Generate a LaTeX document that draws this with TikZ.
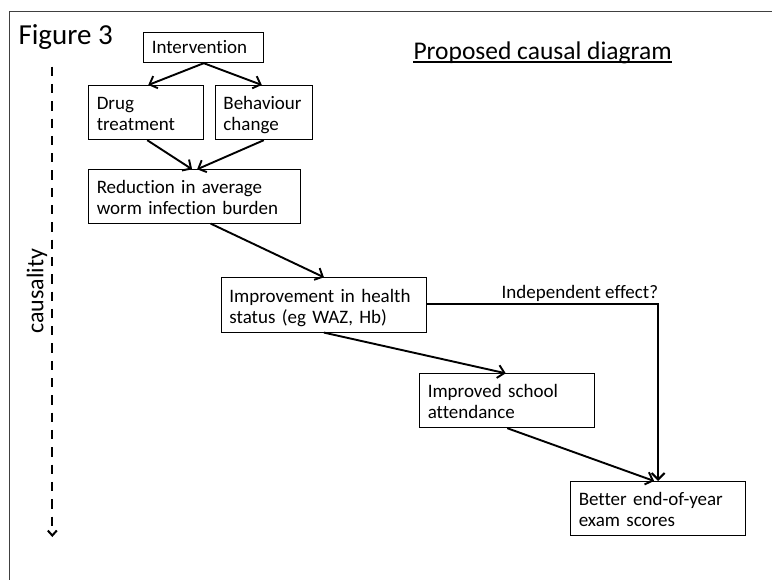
\documentclass[tikz,border=0pt]{standalone}
\usepackage{fontspec}
\setmainfont{Carlito}[Ligatures={NoCommon}]
\usetikzlibrary{arrows.meta,calc}
\begin{document}
\begin{tikzpicture}[x=1pt,y=-1pt,
  box/.style={draw, line width=0.9pt, anchor=north west, inner xsep=8pt, inner ysep=0pt,
    align=left, text depth=30pt, font=\fontsize{19}{21}\selectfont},
  conn/.style={line width=1.9pt, -{Straight Barb[length=6.5pt,width=13pt,line width=1.9pt]}},
  lbl/.style={inner sep=0pt}]
\useasboundingbox (0,0) rectangle (772,580);
\draw[line width=1.3pt, black!75] (9.5,580) -- (9.5,11.5) -- (772,11.5);

\node[lbl, anchor=base west, font=\fontsize{29}{32}\selectfont] (fig) at (18.3,45) {Figure 3};
\node[lbl, anchor=base west, font=\fontsize{25.5}{28}\selectfont] (title) at (413.3,59.3) {Proposed causal diagram};
\draw[line width=1.4pt] ([yshift=-2.6pt]title.base west) -- ([yshift=-2.6pt]title.base east);

\node[lbl, rotate=90, anchor=base, font=\fontsize{24}{28}\selectfont] (caus) at (43.3,291.5) {causality};
\coordinate (dtop) at (52.3,66.7);
\coordinate (dbot) at (52.3,537);
\draw[line width=2pt, dash pattern=on 9.3pt off 8pt, -{Straight Barb[length=5pt,width=9pt,line width=2pt]}] (dtop) -- (dbot);

\node[box, text width=104pt, text height=21.6pt, text depth=9pt, minimum height=30.6pt] (int) at (143.3,31.7) {Intervention};
\node[box, text width=99pt, text height=24.3pt, minimum height=54.3pt] (drug) at (88.3,85) {Drug\\treatment};
\node[box, text width=80.7pt, text height=24.3pt, minimum height=54.3pt] (beh) at (215,85) {Behaviour\\change};
\node[box, text width=195.7pt, text height=23.4pt, minimum height=53.4pt] (red) at (88.3,169.3) {Reduction in average\\worm infection burden};
\node[box, text width=189pt, text height=24.4pt, minimum height=54.4pt] (imp) at (221,277.3) {Improvement in health\\status (eg WAZ, Hb)};
\node[box, text width=159pt, text height=24pt, minimum height=54pt] (sch) at (419.3,373.3) {Improved school\\attendance};
\node[box, text width=158.7pt, text height=24.3pt, minimum height=54.3pt] (bet) at (570.3,481) {Better end-of-year\\exam scores};

\draw[conn] (int.south) -- ([xshift=2pt]drug.north);
\draw[conn] (int.south) -- ([xshift=-2pt]beh.north);
\draw[conn] ([xshift=1pt]drug.south) -- ([xshift=-2.5pt]red.north);
\draw[conn] (beh.south) -- ([xshift=2.5pt]red.north);
\draw[conn] ([xshift=16pt]red.south) -- (imp.north);
\draw[conn] (imp.south) -- ([xshift=-1.5pt]sch.north);
\draw[conn] (sch.south) -- ([xshift=-4pt]bet.north);
\draw[line width=2.4pt, -{Straight Barb[length=6.5pt,width=13pt,line width=2.1pt]}] ([yshift=1.2pt]imp.east) -| (bet.north);
\node[lbl, anchor=base east, font=\fontsize{19}{21}\selectfont] (ind) at (658.3,298.3) {Independent effect?};
\end{tikzpicture}
\end{document}
